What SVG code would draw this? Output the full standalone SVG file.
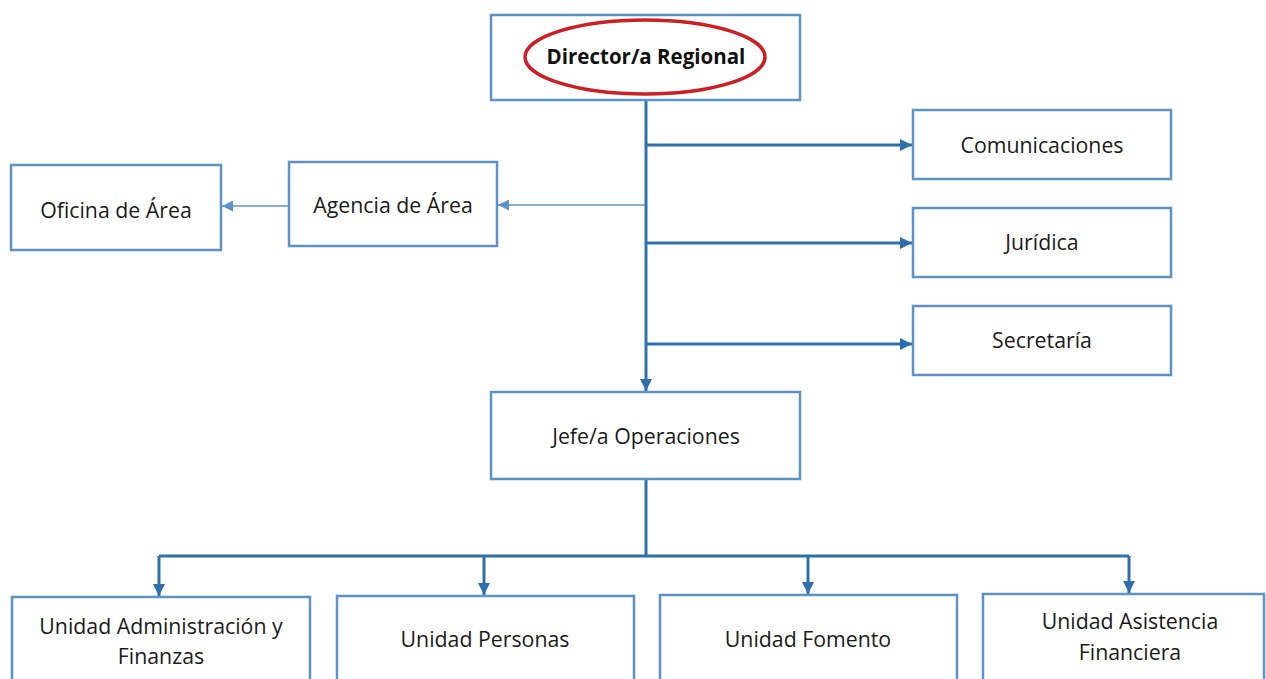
<svg xmlns="http://www.w3.org/2000/svg" width="1266" height="679" viewBox="0 0 1266 679">
<defs>
<style>
.box{fill:#ffffff;stroke:#5b93c9;stroke-width:2.5}
.t{font-family:"Open Sans","Noto Sans",sans-serif;font-size:21.3px;fill:#1a1a1a;text-anchor:middle}
.tb{font-family:"Open Sans","Noto Sans",sans-serif;font-size:20.5px;font-weight:bold;fill:#111;text-anchor:middle}
.c{fill:none;stroke:#2e70ad;stroke-width:3}
.thin{fill:none;stroke:#5b93c9;stroke-width:1.5}
</style>
<marker id="ah" viewBox="0 0 10 10" refX="10" refY="5" markerWidth="12" markerHeight="12" markerUnits="userSpaceOnUse" orient="auto">
<path d="M0,0 L10,5 L0,10 z" fill="#2e70ad"/>
</marker>
<marker id="ahl" viewBox="0 0 10 10" refX="10" refY="5" markerWidth="11" markerHeight="11" markerUnits="userSpaceOnUse" orient="auto">
<path d="M0,0 L10,5 L0,10 z" fill="#5b93c9"/>
</marker>
</defs>
<rect width="1266" height="679" fill="#ffffff"/>
<g id="connectors">
<path class="c" d="M646,100 V391" marker-end="url(#ah)"/>
<path class="c" d="M646,145 H912" marker-end="url(#ah)"/>
<path class="c" d="M646,243 H912" marker-end="url(#ah)"/>
<path class="c" d="M646,344 H912" marker-end="url(#ah)"/>
<path class="thin" d="M645,205 H498" marker-end="url(#ahl)"/>
<path class="thin" d="M289,206 H222" marker-end="url(#ahl)"/>
<path class="c" d="M646,479 V556"/>
<path class="c" d="M159,556 H1129"/>
<path class="c" d="M159,556 V596" marker-end="url(#ah)"/>
<path class="c" d="M484,556 V595" marker-end="url(#ah)"/>
<path class="c" d="M808,556 V594" marker-end="url(#ah)"/>
<path class="c" d="M1129,556 V593" marker-end="url(#ah)"/>
</g>
<g id="director">
<rect class="box" x="491" y="15" width="309" height="85"/>
<ellipse cx="645" cy="57" rx="120" ry="37" fill="none" stroke="#cc1f24" stroke-width="3.5"/>
<text class="tb" x="646" y="64">Director/a Regional</text>
</g>
<g id="comunicaciones">
<rect class="box" x="913" y="110" width="258" height="69"/>
<text class="t" x="1042" y="153">Comunicaciones</text>
</g>
<g id="juridica">
<rect class="box" x="913" y="208" width="258" height="69"/>
<text class="t" x="1042" y="250">Jurídica</text>
</g>
<g id="secretaria">
<rect class="box" x="913" y="306" width="258" height="69"/>
<text class="t" x="1042" y="348">Secretaría</text>
</g>
<g id="agencia">
<rect class="box" x="289" y="162" width="208" height="84"/>
<text class="t" x="393" y="213">Agencia de Área</text>
</g>
<g id="oficina">
<rect class="box" x="11" y="165" width="210" height="85"/>
<text class="t" x="116" y="218">Oficina de Área</text>
</g>
<g id="jefe">
<rect class="box" x="491" y="392" width="309" height="87"/>
<text class="t" x="646" y="444">Jefe/a Operaciones</text>
</g>
<g id="u-admin">
<rect class="box" x="12" y="597" width="298" height="90"/>
<text class="t" x="161" y="634">Unidad Administración y</text>
<text class="t" x="161" y="664">Finanzas</text>
</g>
<g id="u-personas">
<rect class="box" x="337" y="596" width="297" height="90"/>
<text class="t" x="485" y="647">Unidad Personas</text>
</g>
<g id="u-fomento">
<rect class="box" x="660" y="595" width="297" height="90"/>
<text class="t" x="808" y="647">Unidad Fomento</text>
</g>
<g id="u-asistencia">
<rect class="box" x="983" y="594" width="281" height="90"/>
<text class="t" x="1130" y="629">Unidad Asistencia</text>
<text class="t" x="1130" y="660">Financiera</text>
</g>
</svg>
